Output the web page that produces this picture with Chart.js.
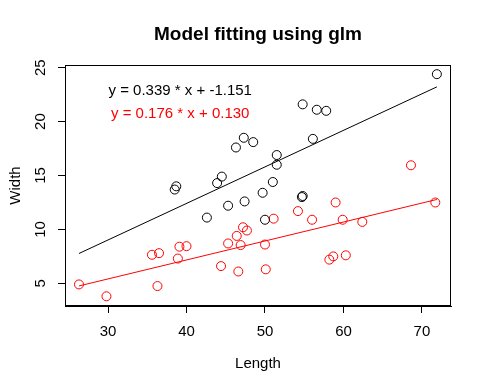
<!DOCTYPE html>
<html>
<head>
<meta charset="utf-8">
<script src="https://cdn.jsdelivr.net/npm/chart.js@4"></script>
<style>
  html, body { margin: 0; padding: 0; background: #fff; }
  #wrap { width: 485px; height: 388px; }
</style>
</head>
<body>
<div id="wrap"><canvas id="glmChart" width="485" height="388"></canvas></div>
<script>
// black group
const blackLength = [71.9, 54.8, 56.6, 57.8, 46.3, 47.3, 48.5, 56.1, 51.5, 51.5, 51.0,
    49.7, 44.5, 43.9, 38.7, 38.5, 45.3, 47.4, 42.6, 54.8, 54.7, 50.0];
const blackWidth = [24.4, 21.6, 21.1, 21.0, 17.6, 18.5, 18.1, 18.4, 16.9, 16.0, 14.4,
    13.4, 14.9, 14.3, 14.0, 13.7, 12.2, 12.6, 11.1, 13.1, 13.0, 10.9];

// red group
const redLength = [26.3, 29.8, 36.3, 35.6, 36.5, 39.1, 40.0, 38.9, 44.4, 46.6, 45.3, 46.9,
    46.4, 47.2, 47.7, 51.1, 54.2, 56.0, 59.0, 59.9, 62.4, 71.7, 50.0, 50.1, 58.2, 58.7, 60.3, 68.6];
const redWidth = [4.9, 3.8, 4.75, 7.65, 7.8, 8.4, 8.45, 7.3, 6.6, 6.1, 8.7, 8.55,
    9.4, 10.2, 9.9, 11.0, 11.7, 10.9, 12.5, 10.9, 10.7, 12.5, 8.6, 6.3, 7.2, 7.5, 7.6, 15.95];

// fitted lines (end points)
const fitX = [26.3, 71.9];
const blackFitY = [7.77, 23.22];
const redFitY = [4.76, 12.78];

const xTicks = [30, 40, 50, 60, 70];
const yTicks = [5, 10, 15, 20, 25];

const fitLabels = ["y = 0.339 * x + -1.151", "y = 0.176 * x + 0.130"];

const FONT = "'Liberation Sans', Arial, sans-serif";

const toPts = (xs, ys) => xs.map((x, i) => ({ x: x, y: ys[i] }));

const decorations = {
    id: "decorations",
    afterDraw(chart) {
        const ctx = chart.ctx;
        const a = chart.chartArea;
        const xs = chart.scales.x;
        const ys = chart.scales.y;
        ctx.save();
        // box round the plot
        ctx.strokeStyle = "#000";
        ctx.lineWidth = 1;
        ctx.strokeRect(a.left + 0.5, a.top + 0.5, a.right - a.left - 1, a.bottom - a.top - 1);

        // y tick labels, parallel to axis
        ctx.fillStyle = "#000";
        ctx.font = "15px " + FONT;
        ctx.textAlign = "center";
        ctx.textBaseline = "middle";
        ys.ticks.forEach(t => {
            const py = ys.getPixelForValue(t.value);
            ctx.save();
            ctx.translate(41, py);
            ctx.rotate(-Math.PI / 2);
            ctx.fillText(String(t.value), 0, 0);
            ctx.restore();
        });

        // title
        ctx.font = "bold 19px " + FONT;
        ctx.fillText("Model fitting using glm", (a.left + a.right) / 2, 35);

        // axis titles
        ctx.font = "15px " + FONT;
        ctx.fillText("Length", (a.left + a.right) / 2, 364);
        ctx.save();
        ctx.translate(16, (a.top + a.bottom) / 2);
        ctx.rotate(-Math.PI / 2);
        ctx.fillText("Width", 0, 0);
        ctx.restore();

        // fit equations
        ctx.font = "15px " + FONT;
        const cx = xs.getPixelForValue(39.2);
        ctx.fillStyle = "#000";
        ctx.fillText(fitLabels[0], cx, ys.getPixelForValue(22.85));
        ctx.fillStyle = "#ff0000";
        ctx.fillText(fitLabels[1], cx, ys.getPixelForValue(20.7));
        ctx.restore();
    }
};

new Chart(document.getElementById("glmChart"), {
    type: "scatter",
    data: {
        datasets: [
            {
                data: toPts(blackLength, blackWidth),
                borderColor: "#000",
                backgroundColor: "rgba(0,0,0,0)",
                pointRadius: 4.5,
                pointBorderWidth: 1
            },
            {
                data: toPts(redLength, redWidth),
                borderColor: "#ff0000",
                backgroundColor: "rgba(0,0,0,0)",
                pointRadius: 4.5,
                pointBorderWidth: 1
            },
            {
                type: "line",
                data: toPts(fitX, blackFitY),
                borderColor: "#000",
                borderWidth: 1,
                pointRadius: 0,
                fill: false
            },
            {
                type: "line",
                data: toPts(fitX, redFitY),
                borderColor: "#ff0000",
                borderWidth: 1,
                pointRadius: 0,
                fill: false
            }
        ]
    },
    options: {
        responsive: false,
        animation: false,
        devicePixelRatio: 1,
        layout: { padding: { top: 65, right: 34, left: 0, bottom: 0 } },
        plugins: { legend: { display: false }, tooltip: { enabled: false } },
        scales: {
            x: {
                type: "linear",
                min: 24.52,
                max: 73.7,
                afterFit: s => { s.height = 82; },
                afterBuildTicks: s => { s.ticks = xTicks.map(v => ({ value: v })); },
                grid: { drawOnChartArea: false, drawTicks: true, tickLength: 7, color: "#000" },
                border: { display: true, color: "#000" },
                ticks: { color: "#000", font: { family: FONT, size: 15 }, padding: 10, maxRotation: 0 }
            },
            y: {
                type: "linear",
                min: 2.9,
                max: 25.25,
                afterFit: s => { s.width = 65; },
                afterBuildTicks: s => { s.ticks = yTicks.map(v => ({ value: v })); },
                grid: { drawOnChartArea: false, drawTicks: true, tickLength: 7, color: "#000" },
                border: { display: true, color: "#000" },
                ticks: { display: false }
            }
        }
    },
    plugins: [decorations]
});
</script>
</body>
</html>
